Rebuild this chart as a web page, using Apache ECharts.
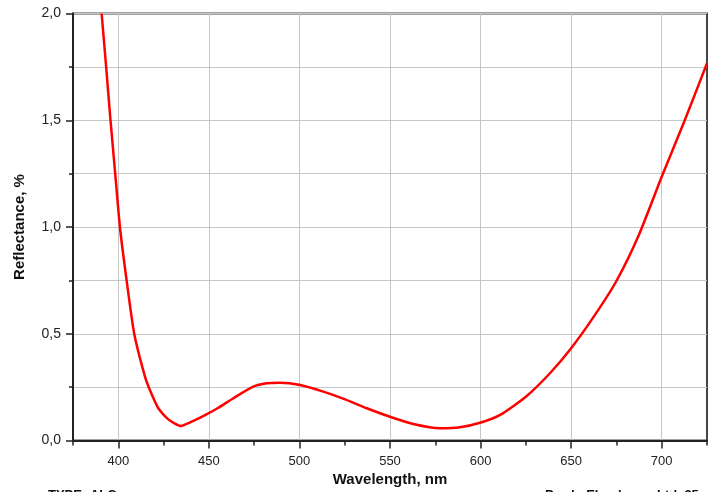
<!DOCTYPE html>
<html>
<head>
<meta charset="utf-8">
<script src="https://cdn.jsdelivr.net/npm/echarts@6/dist/echarts.min.js"></script>
<style>
html,body{margin:0;padding:0;background:#fff;}
#chart{width:717px;height:492px;}
</style>
</head>
<body>
<div id="chart"></div>
<script>
// Data
var wavelengths = [390.8, 393.3, 395.7, 398.3, 400.9, 404.6, 408.8, 414.7, 417.5, 422.1, 427.6, 434.6, 440.5, 447.9, 455, 463.5, 474.5, 481.9, 489.3, 500.4, 513.2, 525.2, 537.2, 550, 562.9, 577.6, 588.7, 599.7, 610.8, 625, 638.3, 650, 662.5, 675, 687.5, 700, 712.5, 725];
var reflectance = [2.0, 1.75, 1.50, 1.25, 1.00, 0.75, 0.50, 0.30, 0.235, 0.151, 0.099, 0.068, 0.088, 0.119, 0.152, 0.198, 0.252, 0.268, 0.271, 0.26, 0.229, 0.193, 0.151, 0.111, 0.077, 0.057, 0.062, 0.083, 0.12, 0.205, 0.315, 0.432, 0.58, 0.747, 0.965, 1.235, 1.495, 1.767];
var xMajorTicks = [400, 450, 500, 550, 600, 650, 700];
var xMinorTicks = [375, 425, 475, 525, 575, 625, 675, 725];
var xTitle = 'Wavelength, nm';
var yTitle = 'Reflectance, %';
var footLeft = 'TYPE: ALC';
var footRight = 'Prod.: Ebenbauer Ltd. 25';

var points = wavelengths.map(function (w, i) { return [w, reflectance[i]]; });
var font = 'Liberation Sans, Arial, sans-serif';

var chart = echarts.init(document.getElementById('chart'), null, {renderer: 'canvas'});
chart.setOption({
  animation: false,
  backgroundColor: '#ffffff',
  grid: {left: 73, right: 10, top: 13.5, bottom: 51.5, containLabel: false, outerBoundsMode: 'none',
    show: true, borderColor: '#444', borderWidth: 2, backgroundColor: 'transparent'},
  xAxis: [{
    type: 'value', min: 375, max: 725, interval: 25,
    name: xTitle, nameLocation: 'middle', nameGap: 32,
    nameTextStyle: {fontFamily: font, fontSize: 15, fontWeight: 'bold', color: '#111'},
    axisLine: {show: true, lineStyle: {color: '#222', width: 2}},
    axisTick: {show: true, length: 8, customValues: xMajorTicks, lineStyle: {color: '#222', width: 1.5}},
    axisLabel: {customValues: xMajorTicks, margin: 14, fontFamily: font, fontSize: 13, color: '#222'},
    splitLine: {show: true, lineStyle: {color: '#c6c6c6', width: 1}}
  }, {
    type: 'value', min: 375, max: 725, position: 'bottom', offset: 0,
    axisLine: {show: false},
    axisTick: {show: true, length: 5, customValues: xMinorTicks, lineStyle: {color: '#222', width: 1.5}},
    axisLabel: {show: false},
    splitLine: {show: false}
  }],
  yAxis: {
    type: 'value', min: 0, max: 2, interval: 0.5,
    name: yTitle, nameLocation: 'middle', nameGap: 46, nameRotate: 90,
    nameTextStyle: {fontFamily: font, fontSize: 15, fontWeight: 'bold', color: '#111'},
    axisLine: {show: true, lineStyle: {color: '#222', width: 2}},
    axisTick: {show: true, length: 7, lineStyle: {color: '#222', width: 1.5}},
    minorTick: {show: true, splitNumber: 2, length: 4, lineStyle: {color: '#222', width: 1.5}},
    minorSplitLine: {show: true, lineStyle: {color: '#c6c6c6', width: 1}},
    axisLabel: {margin: 12, fontFamily: font, fontSize: 14, color: '#222',
      formatter: function (v) { return v.toFixed(1).replace('.', ','); }},
    splitLine: {show: true, lineStyle: {color: '#c6c6c6', width: 1}}
  },
  graphic: [
    {type: 'text', left: 48, top: 489, style: {text: footLeft, font: 'bold 13px ' + font, fill: '#111'}},
    {type: 'text', left: 545, top: 489, style: {text: footRight, font: 'bold 13px ' + font, fill: '#111'}}
  ],
  series: [{
    type: 'line', data: points, xAxisIndex: 0, showSymbol: false, symbol: 'none',
    smooth: 0.2, clip: true,
    lineStyle: {color: '#ff0000', width: 2.5}
  }]
});
</script>
</body>
</html>
